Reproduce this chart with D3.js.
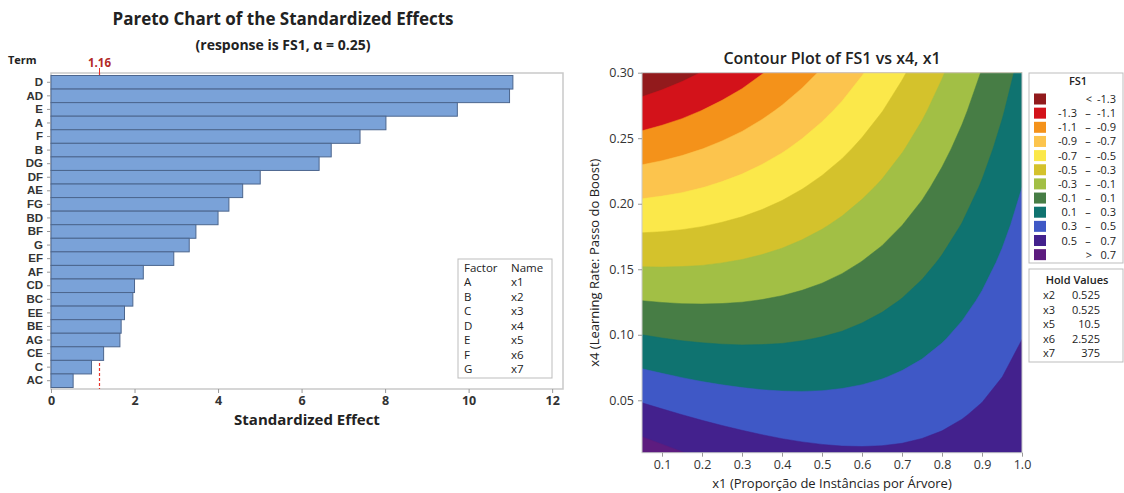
<!DOCTYPE html>
<html>
<head>
<meta charset="utf-8">
<script src="https://cdn.jsdelivr.net/npm/d3@7"></script>
<style>
  body { margin: 0; background: #fff; }
  svg { font-family: "Open Sans", "Noto Sans", sans-serif; }
</style>
</head>
<body>
<svg id="chart" width="1124" height="493"></svg>
<script>
// ---- Pareto data ----
var terms = ["D","AD","E","A","F","B","DG","DF","AE","FG","BD","BF","G","EF","AF","CD","BC","EE","BE","AG","CE","C","AC"];
var effects = [11.06,10.98,9.73,8.02,7.40,6.71,6.42,5.01,4.59,4.26,4.00,3.47,3.31,2.94,2.21,2.00,1.96,1.76,1.68,1.65,1.26,0.97,0.53];
var refLine = 1.16;
var paretoTicks = [0,2,4,6,8,10,12];
var factorCodes = ["A","B","C","D","E","F","G"];
var factorNames = ["x1","x2","x3","x4","x5","x6","x7"];

// ---- Contour data (FS1) ----
var x1Grid = [0.05,0.10,0.15,0.20,0.25,0.30,0.35,0.40,0.45,0.50,0.55,0.60,0.65,0.70,0.75,0.80,0.85,0.90,0.95,1.00];
var x4Grid = [0.010,0.039,0.068,0.097,0.126,0.155,0.184,0.213,0.242,0.271,0.300];
// one row per x4 value (bottom to top), one column per x1 value
var fs1 = [
  [0.794,0.748,0.705,0.667,0.634,0.605,0.580,0.559,0.543,0.531,0.523,0.520,0.521,0.526,0.536,0.550,0.568,0.591,0.617,0.649],
  [0.570,0.533,0.500,0.471,0.447,0.427,0.411,0.399,0.392,0.389,0.391,0.397,0.407,0.421,0.440,0.463,0.491,0.522,0.558,0.599],
  [0.347,0.319,0.295,0.275,0.260,0.249,0.242,0.240,0.242,0.248,0.259,0.274,0.293,0.317,0.344,0.377,0.413,0.454,0.499,0.549],
  [0.123,0.104,0.089,0.079,0.073,0.071,0.074,0.080,0.092,0.107,0.126,0.151,0.179,0.212,0.249,0.290,0.336,0.386,0.440,0.499],
  [-0.100,-0.110,-0.116,-0.117,-0.114,-0.107,-0.095,-0.079,-0.059,-0.035,-0.006,0.028,0.065,0.107,0.153,0.204,0.259,0.318,0.381,0.449],
  [-0.324,-0.325,-0.321,-0.314,-0.301,-0.285,-0.264,-0.239,-0.209,-0.176,-0.138,-0.095,-0.049,0.003,0.058,0.118,0.181,0.250,0.322,0.399],
  [-0.548,-0.539,-0.527,-0.510,-0.488,-0.463,-0.433,-0.399,-0.360,-0.317,-0.270,-0.218,-0.163,-0.102,-0.038,0.031,0.104,0.181,0.263,0.349],
  [-0.771,-0.753,-0.732,-0.706,-0.675,-0.641,-0.601,-0.558,-0.510,-0.458,-0.402,-0.341,-0.277,-0.207,-0.134,-0.055,0.027,0.113,0.204,0.299],
  [-0.995,-0.968,-0.937,-0.902,-0.862,-0.819,-0.770,-0.718,-0.661,-0.600,-0.535,-0.464,-0.391,-0.312,-0.229,-0.142,-0.051,0.045,0.145,0.249],
  [-1.218,-1.182,-1.143,-1.098,-1.049,-0.997,-0.939,-0.877,-0.811,-0.741,-0.667,-0.587,-0.504,-0.416,-0.325,-0.228,-0.128,-0.023,0.086,0.200],
  [-1.442,-1.397,-1.348,-1.295,-1.236,-1.175,-1.107,-1.037,-0.961,-0.882,-0.799,-0.710,-0.618,-0.521,-0.420,-0.314,-0.205,-0.092,0.027,0.150]
];
var levels = [-1.3,-1.1,-0.9,-0.7,-0.5,-0.3,-0.1,0.1,0.3,0.5,0.7];
var levelColors = ["#921a1c","#d3121a","#f4921a","#fcc44d","#fbe84a","#d4c22c","#a2bf45","#477d45","#0f7370","#3f58c6","#43218d","#5d1c7f"];
var legendLow = ["", "-1.3","-1.1","-0.9","-0.7","-0.5","-0.3","-0.1","0.1","0.3","0.5",""];
var legendHigh = ["-1.3","-1.1","-0.9","-0.7","-0.5","-0.3","-0.1","0.1","0.3","0.5","0.7","0.7"];
var x1Ticks = [0.1,0.2,0.3,0.4,0.5,0.6,0.7,0.8,0.9,1.0];
var x4Ticks = [0.05,0.10,0.15,0.20,0.25,0.30];
var holdNames = ["x2","x3","x5","x6","x7"];
var holdValues = ["0.525","0.525","10.5","2.525","375"];

var svg = d3.select("#chart");
var txt = "#222";

// ================= Pareto chart =================
var pL = 51, pR = 563, pT = 73, pB = 389;
var px = d3.scaleLinear().domain([0, 12.26]).range([pL, pR]);
var py = d3.scaleBand().domain(terms).range([75.5, 387.5]).padding(0);

svg.append("text").attr("x", 283).attr("y", 25).attr("text-anchor", "middle")
  .style("font-size", "17px").style("font-weight", "bold").attr("fill", txt)
  .text("Pareto Chart of the Standardized Effects");
svg.append("text").attr("x", 283).attr("y", 50).attr("text-anchor", "middle")
  .style("font-size", "14px").style("font-weight", "bold").attr("fill", txt)
  .text("(response is FS1, α = 0.25)");
svg.append("text").attr("x", 8).attr("y", 64)
  .style("font-size", "11px").style("font-weight", "bold").attr("fill", txt).text("Term");

svg.append("rect").attr("x", pL).attr("y", pT).attr("width", pR - pL).attr("height", pB - pT)
  .attr("fill", "none").attr("stroke", "#c9c9c9").attr("stroke-width", 1.5);

// reference line sits under the bars
var refX = Math.round(px(refLine)) + 0.5;
svg.append("line").attr("x1", refX).attr("x2", refX).attr("y1", pT).attr("y2", pB)
  .attr("stroke", "#e8332b").attr("stroke-dasharray", "3,2").attr("stroke-width", 1.2);
svg.append("line").attr("x1", refX).attr("x2", refX).attr("y1", pT - 5).attr("y2", pT)
  .attr("stroke", "#e8332b");
svg.append("text").attr("x", refX).attr("y", 67).attr("text-anchor", "middle")
  .style("font-size", "11.5px").style("font-weight", "bold").attr("fill", "#b22a26").text(refLine.toFixed(2));

svg.selectAll("rect.bar").data(effects).enter().append("rect")
  .attr("class", "bar")
  .attr("x", px(0))
  .attr("y", function(d, i) { return py(terms[i]); })
  .attr("width", function(d) { return px(d) - px(0); })
  .attr("height", py.bandwidth())
  .attr("fill", "#7aa2d8").attr("stroke", "#4c668e").attr("stroke-width", 1);

var yAx = svg.append("g").attr("transform", "translate(" + pL + ",0)")
  .call(d3.axisLeft(py).tickSize(4).tickPadding(4));
yAx.select(".domain").remove();
yAx.selectAll("line").attr("stroke", "#999");
yAx.selectAll("text").style("font-size", "11.5px").style("font-weight", "bold")
  .style("font-family", "'Liberation Sans', 'DejaVu Sans', sans-serif").attr("fill", "#333");

var xAx = svg.append("g").attr("transform", "translate(0," + pB + ")")
  .call(d3.axisBottom(px).tickValues(paretoTicks).tickSize(4).tickPadding(3));
xAx.select(".domain").remove();
xAx.selectAll("line").attr("stroke", "#999");
xAx.selectAll("text").style("font-size", "12.5px").style("font-weight", "bold")
  .style("font-family", "'Open Sans', sans-serif").attr("fill", "#333");

svg.append("text").attr("x", 307).attr("y", 425).attr("text-anchor", "middle")
  .style("font-size", "15px").style("font-weight", "bold").attr("fill", txt).text("Standardized Effect");

// factor legend
var lg = svg.append("g");
lg.append("rect").attr("x", 458).attr("y", 259).attr("width", 94).attr("height", 119)
  .attr("fill", "#fff").attr("stroke", "#bdbdbd");
lg.append("text").attr("x", 464).attr("y", 271.5).style("font-size", "11.5px").attr("fill", txt).text("Factor");
lg.append("text").attr("x", 511).attr("y", 271.5).style("font-size", "11.5px").attr("fill", txt).text("Name");
factorCodes.forEach(function(c, i) {
  var yy = 271.5 + (i + 1) * 14.57;
  lg.append("text").attr("x", 464).attr("y", yy).style("font-size", "11.5px").attr("fill", txt).text(c);
  lg.append("text").attr("x", 511).attr("y", yy).style("font-size", "11.5px").attr("fill", txt).text(factorNames[i]);
});

// ================= Contour plot =================
var cL = 642, cR = 1022, cT = 72.7, cB = 452.7;
var cx = d3.scaleLinear().domain([0.05, 1.0]).range([cL, cR]);
var cy = d3.scaleLinear().domain([0.01, 0.30]).range([cB, cT]);

svg.append("text").attr("x", 832).attr("y", 64).attr("text-anchor", "middle")
  .style("font-size", "16px").style("font-weight", "600").attr("fill", txt)
  .text("Contour Plot of FS1 vs x4, x1");

svg.append("clipPath").attr("id", "cclip").append("rect")
  .attr("x", cL).attr("y", cT).attr("width", cR - cL).attr("height", cB - cT);

var nx = x1Grid.length, ny = x4Grid.length;
var flat = [];
fs1.forEach(function(row) { row.forEach(function(v) { flat.push(v); }); });
var dx1 = x1Grid[1] - x1Grid[0], dx4 = x4Grid[1] - x4Grid[0];
var proj = d3.geoTransform({
  point: function(gx, gy) {
    this.stream.point(cx(x1Grid[0] + (gx - 0.5) * dx1), cy(x4Grid[0] + (gy - 0.5) * dx4));
  }
});
var cpath = d3.geoPath(proj);
var contours = d3.contours().size([nx, ny]).thresholds(levels)(flat);

var cg = svg.append("g").attr("clip-path", "url(#cclip)");
cg.append("rect").attr("x", cL).attr("y", cT).attr("width", cR - cL).attr("height", cB - cT)
  .attr("fill", levelColors[0]);
cg.selectAll("path").data(contours).enter().append("path")
  .attr("d", cpath)
  .attr("fill", function(d, i) { return levelColors[i + 1]; })
  .attr("stroke", function(d, i) { return levelColors[i + 1]; })
  .attr("stroke-width", 0.5);

svg.append("rect").attr("x", cL).attr("y", cT).attr("width", cR - cL).attr("height", cB - cT)
  .attr("fill", "none").attr("stroke", "#c9c9c9").attr("stroke-width", 1);

var cxAx = svg.append("g").attr("transform", "translate(0," + cB + ")")
  .call(d3.axisBottom(cx).tickValues(x1Ticks).tickFormat(d3.format(".1f")).tickSize(4).tickPadding(3));
cxAx.select(".domain").remove();
cxAx.selectAll("line").attr("stroke", "#999");
cxAx.selectAll("text").style("font-size", "12.5px").style("font-family", "'Open Sans', sans-serif").attr("fill", "#333");

var cyAx = svg.append("g").attr("transform", "translate(" + cL + ",0)")
  .call(d3.axisLeft(cy).tickValues(x4Ticks).tickFormat(d3.format(".2f")).tickSize(4).tickPadding(4));
cyAx.select(".domain").remove();
cyAx.selectAll("line").attr("stroke", "#999");
cyAx.selectAll("text").style("font-size", "12.5px").style("font-family", "'Open Sans', sans-serif").attr("fill", "#333");

svg.append("text").attr("x", 832).attr("y", 488).attr("text-anchor", "middle")
  .style("font-size", "13px").style("font-weight", "500").attr("fill", txt)
  .text("x1 (Proporção de Instâncias por Árvore)");
svg.append("text").attr("transform", "translate(599," + ((cT + cB) / 2) + ") rotate(-90)")
  .attr("text-anchor", "middle").style("font-size", "13px").style("font-weight", "500").attr("fill", txt)
  .text("x4 (Learning Rate: Passo do Boost)");

// FS1 legend
var fl = svg.append("g");
fl.append("rect").attr("x", 1029).attr("y", 73).attr("width", 94).attr("height", 190)
  .attr("fill", "#fff").attr("stroke", "#bdbdbd");
fl.append("text").attr("x", 1078).attr("y", 85).attr("text-anchor", "middle")
  .style("font-size", "11px").style("font-weight", "600").attr("fill", txt).text("FS1");
levelColors.forEach(function(c, i) {
  var yc = 99 + i * 14.15;
  fl.append("rect").attr("x", 1034).attr("y", yc - 5.5).attr("width", 12).attr("height", 11).attr("fill", c);
  var lab = fl.append("g").style("font-size", "11px").attr("fill", txt);
  if (i === 0) {
    lab.append("text").attr("x", 1092).attr("y", yc + 4).attr("text-anchor", "end").text("<");
  } else if (i === levelColors.length - 1) {
    lab.append("text").attr("x", 1092).attr("y", yc + 4).attr("text-anchor", "end").text(">");
  } else {
    lab.append("text").attr("x", 1077).attr("y", yc + 4).attr("text-anchor", "end").text(legendLow[i]);
    lab.append("text").attr("x", 1088).attr("y", yc + 4).attr("text-anchor", "middle").text("–");
  }
  lab.append("text").attr("x", 1116).attr("y", yc + 4).attr("text-anchor", "end").text(legendHigh[i]);
});

// hold values
var hv = svg.append("g");
hv.append("rect").attr("x", 1029).attr("y", 269).attr("width", 94).attr("height", 93)
  .attr("fill", "#fff").attr("stroke", "#bdbdbd");
hv.append("text").attr("x", 1077).attr("y", 284).attr("text-anchor", "middle")
  .style("font-size", "11px").style("font-weight", "600").attr("fill", txt).text("Hold Values");
holdNames.forEach(function(n, i) {
  var yy = 299 + i * 14.5;
  hv.append("text").attr("x", 1043).attr("y", yy).style("font-size", "11px").attr("fill", txt).text(n);
  hv.append("text").attr("x", 1100).attr("y", yy).attr("text-anchor", "end").style("font-size", "11px").attr("fill", txt).text(holdValues[i]);
});
</script>
</body>
</html>
